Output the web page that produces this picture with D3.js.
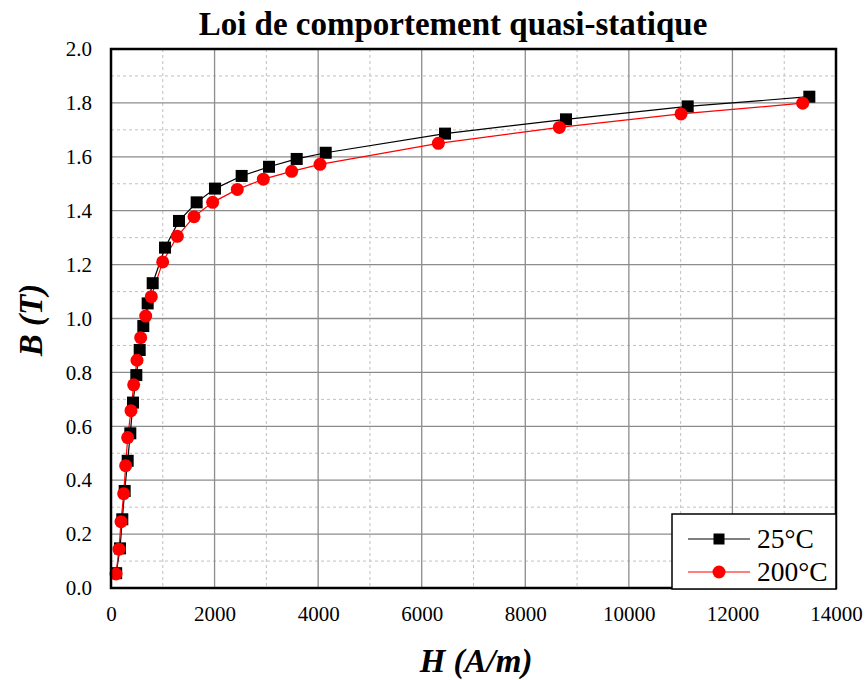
<!DOCTYPE html>
<html>
<head>
<meta charset="utf-8">
<script src="https://cdn.jsdelivr.net/npm/d3@7"></script>
<style>
  body { margin: 0; background: #fff; }
  text { font-family: "Liberation Serif", "Times New Roman", serif; }
</style>
</head>
<body>
<div id="chart"></div>
<script>
// data
const h25 = [100, 174, 218, 264, 322, 373, 425, 489, 554, 624, 708, 805, 1043, 1313, 1654, 2008, 2523, 3051, 3586, 4146, 6450, 8786, 11136, 13485]
const b25 = [0.055, 0.147, 0.255, 0.360, 0.472, 0.574, 0.688, 0.790, 0.883, 0.972, 1.056, 1.131, 1.263, 1.362, 1.431, 1.482, 1.529, 1.563, 1.592, 1.615, 1.686, 1.739, 1.787, 1.823]
const h200 = [97, 154, 193, 245, 283, 322, 386, 438, 502, 573, 670, 778, 998, 1281, 1603, 1963, 2439, 2941, 3489, 4036, 6321, 8657, 11007, 13357]
const b200 = [0.052, 0.144, 0.246, 0.350, 0.454, 0.558, 0.658, 0.754, 0.845, 0.929, 1.009, 1.081, 1.210, 1.305, 1.378, 1.431, 1.479, 1.517, 1.546, 1.572, 1.650, 1.709, 1.759, 1.799]
const xTicks = [0, 2000, 4000, 6000, 8000, 10000, 12000, 14000]
const yTicks = [0, 0.2, 0.4, 0.6, 0.8, 1.0, 1.2, 1.4, 1.6, 1.8, 2.0]
const seriesNames = ["25°C", "200°C"]

const width = 867, height = 680
const margin = ({ top: 49, right: 31, bottom: 92, left: 111 })
const w = width - margin.left - margin.right
const h = height - margin.top - margin.bottom

const svg = d3.select("#chart")
    .append("svg")
    .attr("width", width)
    .attr("height", height)

const g = svg.append("g")
    .attr("transform", "translate(" + margin.left + "," + margin.top + ")")

const x = d3.scaleLinear().domain([0, 14000]).range([0, w])
const y = d3.scaleLinear().domain([0, 2]).range([h, 0])

// minor grid (dashed)
g.append("g")
    .selectAll("line")
    .data(d3.range(1000, 14000, 2000))
    .join("line")
    .attr("x1", d => x(d)).attr("x2", d => x(d))
    .attr("y1", 0).attr("y2", h)
    .attr("stroke", "#c0c0c0").attr("stroke-dasharray", "3,3")
g.append("g")
    .selectAll("line")
    .data(d3.range(0.1, 2, 0.2))
    .join("line")
    .attr("x1", 0).attr("x2", w)
    .attr("y1", d => y(d)).attr("y2", d => y(d))
    .attr("stroke", "#c0c0c0").attr("stroke-dasharray", "3,3")

// major grid
g.append("g")
    .selectAll("line")
    .data(xTicks.slice(1, -1))
    .join("line")
    .attr("x1", d => x(d)).attr("x2", d => x(d))
    .attr("y1", 0).attr("y2", h)
    .attr("stroke", "#8c8c8c").attr("stroke-width", 1.3)
g.append("g")
    .selectAll("line")
    .data(yTicks.slice(1, -1))
    .join("line")
    .attr("x1", 0).attr("x2", w)
    .attr("y1", d => y(d)).attr("y2", d => y(d))
    .attr("stroke", "#8c8c8c").attr("stroke-width", 1.3)

// axes (tick labels only)
const xAxis = g.append("g")
    .attr("transform", "translate(0," + h + ")")
    .call(d3.axisBottom(x).tickValues(xTicks).tickSize(0).tickPadding(18).tickFormat(d3.format("d")))
const yAxis = g.append("g")
    .call(d3.axisLeft(y).tickValues(yTicks).tickSize(0).tickPadding(19).tickFormat(d3.format(".1f")))
xAxis.select(".domain").remove()
yAxis.select(".domain").remove()
xAxis.selectAll("text").style("font-size", "21px").attr("fill", "#000")
    .attr("font-family", "Liberation Serif, serif")
yAxis.selectAll("text").style("font-size", "21px").attr("fill", "#000")
    .attr("font-family", "Liberation Serif, serif")

// lines and markers
const data25 = h25.map((d, i) => ({ h: d, b: b25[i] }))
const data200 = h200.map((d, i) => ({ h: d, b: b200[i] }))
const line = d3.line().x(d => x(d.h)).y(d => y(d.b))

g.append("path").datum(data25)
    .attr("fill", "none").attr("stroke", "#000").attr("stroke-width", 1.2)
    .attr("d", line)
g.append("path").datum(data200)
    .attr("fill", "none").attr("stroke", "#ff0000").attr("stroke-width", 1.2)
    .attr("d", line)

const sq = 12
g.selectAll(".sq")
    .data(data25)
    .join("rect")
    .attr("class", "sq")
    .attr("x", d => x(d.h) - sq / 2)
    .attr("y", d => y(d.b) - sq / 2)
    .attr("width", sq).attr("height", sq)
    .attr("fill", "#000")
g.selectAll(".ci")
    .data(data200)
    .join("circle")
    .attr("class", "ci")
    .attr("cx", d => x(d.h))
    .attr("cy", d => y(d.b))
    .attr("r", 6.5)
    .attr("fill", "#ff0000")

// plot border
g.append("rect")
    .attr("width", w).attr("height", h)
    .attr("fill", "none").attr("stroke", "#000").attr("stroke-width", 2.5)

// legend
const lg = svg.append("g").attr("transform", "translate(672,514)")
lg.append("rect")
    .attr("width", 164).attr("height", 75)
    .attr("fill", "#fff").attr("stroke", "#000").attr("stroke-width", 1.5)
const lgColors = ["#000", "#ff0000"]
seriesNames.forEach((d, i) => {
    const cy = 25 + 33 * i
    lg.append("line")
        .attr("x1", 16).attr("x2", 78).attr("y1", cy).attr("y2", cy)
        .attr("stroke", lgColors[i]).attr("stroke-width", 1.2)
    if (i === 0) {
        lg.append("rect")
            .attr("x", 47 - 5.5).attr("y", cy - 5.5)
            .attr("width", 11).attr("height", 11).attr("fill", "#000")
    } else {
        lg.append("circle")
            .attr("cx", 47).attr("cy", cy).attr("r", 6.5).attr("fill", "#ff0000")
    }
    lg.append("text")
        .attr("x", 85).attr("y", cy + 9)
        .text(d)
        .style("font-size", "27.5px")
})

// titles
svg.append("text")
    .attr("x", 453).attr("y", 35)
    .attr("text-anchor", "middle")
    .style("font-size", "33px").style("font-weight", "bold")
    .text("Loi de comportement quasi-statique")

svg.append("text")
    .attr("x", 476).attr("y", 672)
    .attr("text-anchor", "middle")
    .style("font-size", "33px").style("font-weight", "bold").style("font-style", "italic")
    .text("H (A/m)")

svg.append("text")
    .attr("transform", "translate(42,320) rotate(-90)")
    .attr("text-anchor", "middle")
    .style("font-size", "33px").style("font-weight", "bold").style("font-style", "italic")
    .text("B (T)")
</script>
</body>
</html>
